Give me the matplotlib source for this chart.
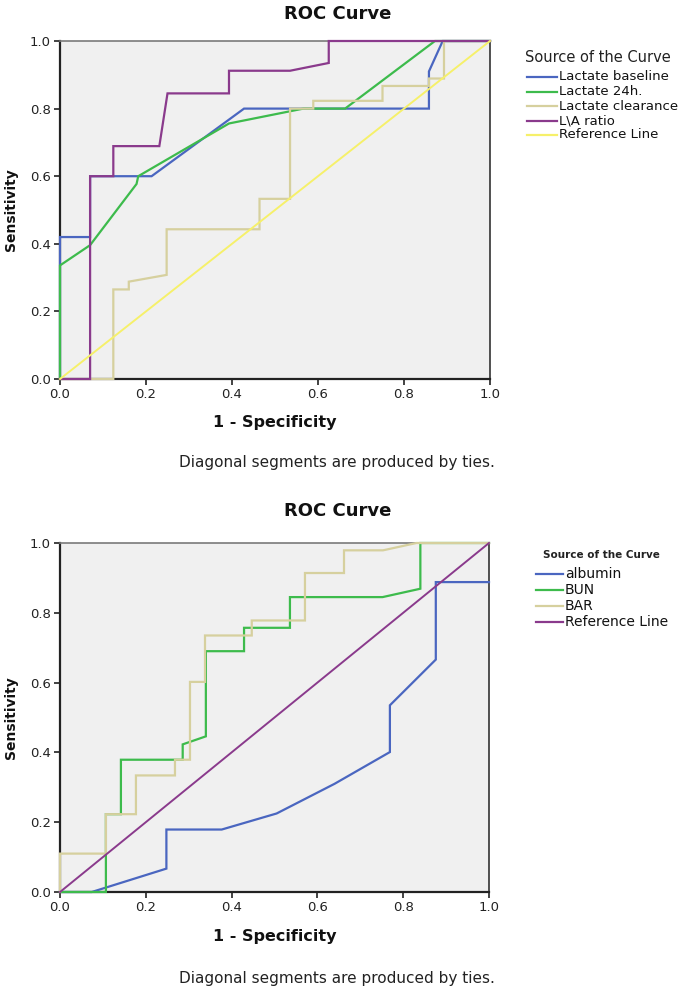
import matplotlib
matplotlib.use("Agg")
import matplotlib.pyplot as plt
from matplotlib.lines import Line2D

plt.rcParams['font.family'] = ['DejaVu Sans']

# ---------------- data: top chart ----------------
ticks = [0.0, 0.2, 0.4, 0.6, 0.8, 1.0]
tick_labels = ["0.0", "0.2", "0.4", "0.6", "0.8", "1.0"]

top_labels = ["Lactate baseline", "Lactate 24h.", "Lactate clearance", "L\\A ratio", "Reference Line"]

base_x = [0, 0, 0.07, 0.07, 0.213, 0.428, 0.858, 0.858, 0.89, 1.0]
base_y = [0, 0.42, 0.42, 0.6, 0.6, 0.8, 0.8, 0.91, 1.0, 1.0]

l24_x = [0, 0, 0.07, 0.178, 0.182, 0.393, 0.566, 0.663, 0.872, 1.0]
l24_y = [0, 0.336, 0.396, 0.577, 0.6, 0.756, 0.8, 0.8, 1.0, 1.0]

clr_x = [0, 0.124, 0.124, 0.16, 0.16, 0.248, 0.248, 0.464, 0.464, 0.535, 0.535,
         0.589, 0.589, 0.75, 0.75, 0.858, 0.858, 0.893, 0.893, 1.0]
clr_y = [0, 0, 0.265, 0.265, 0.288, 0.308, 0.443, 0.443, 0.533, 0.533, 0.8,
         0.8, 0.823, 0.823, 0.867, 0.867, 0.889, 0.889, 1.0, 1.0]

la_x = [0, 0.07, 0.07, 0.124, 0.124, 0.231, 0.25, 0.393, 0.393, 0.535, 0.625, 0.625, 1.0]
la_y = [0, 0, 0.6, 0.6, 0.689, 0.689, 0.845, 0.845, 0.912, 0.912, 0.935, 1.0, 1.0]

ref_x = [0, 1]
ref_y = [0, 1]

# ---------------- data: bottom chart ----------------
bot_labels = ["albumin", "BUN", "BAR", "Reference Line"]

alb_x = [0, 0.074, 0.248, 0.248, 0.377, 0.505, 0.64, 0.769, 0.769, 0.876, 0.876, 1.0]
alb_y = [0, 0, 0.067, 0.179, 0.179, 0.225, 0.31, 0.401, 0.535, 0.666, 0.888, 0.888]

bun_x = [0, 0.107, 0.107, 0.142, 0.142, 0.286, 0.286, 0.34, 0.34, 0.429, 0.429,
         0.536, 0.536, 0.752, 0.84, 0.84, 1.0]
bun_y = [0, 0, 0.223, 0.223, 0.379, 0.379, 0.423, 0.446, 0.69, 0.69, 0.757,
         0.757, 0.845, 0.845, 0.869, 1.0, 1.0]

bar_x = [0, 0, 0.107, 0.107, 0.177, 0.177, 0.268, 0.268, 0.303, 0.303, 0.338,
         0.338, 0.447, 0.447, 0.571, 0.571, 0.662, 0.662, 0.753, 0.831, 1.0]
bar_y = [0, 0.11, 0.11, 0.223, 0.223, 0.334, 0.334, 0.379, 0.379, 0.602, 0.602,
         0.735, 0.735, 0.778, 0.778, 0.914, 0.914, 0.979, 0.979, 1.0, 1.0]

# ---------------- styles ----------------
BLUE = "#4a66c0"
GREEN = "#3dbb4c"
TAN = "#d6d09e"
PURPLE = "#8a3a8c"
YELLOW = "#f6f06a"
BG = "#f0f0f0"

W, H = 685, 990
fig = plt.figure(figsize=(W / 100, H / 100), dpi=100)


def px_ax(left, top, right, bottom):
    return fig.add_axes([left / W, 1 - bottom / H, (right - left) / W, (bottom - top) / H])


def style_axes(ax, top_px, bottom_px, left_px, right_px, title_y_px, xlabel_y_px):
    ax.set_facecolor(BG)
    ax.set_xlim(0, 1)
    ax.set_ylim(0, 1)
    ax.set_xticks(ticks)
    ax.set_xticklabels(tick_labels)
    ax.set_yticks(ticks)
    ax.set_yticklabels(tick_labels)
    ax.tick_params(direction='out', length=4.5, width=1.2, color='#222222',
                   labelsize=9.5, labelcolor='#222222', pad=2)
    ax.spines['left'].set_linewidth(1.6)
    ax.spines['bottom'].set_linewidth(1.6)
    ax.spines['left'].set_color('#222222')
    ax.spines['bottom'].set_color('#222222')
    ax.spines['top'].set_linewidth(1.2)
    ax.spines['top'].set_color('#7a7a7a')
    ax.spines['right'].set_linewidth(1.2)
    ax.spines['right'].set_color('#333333')
    hpx = bottom_px - top_px
    wpx = right_px - left_px
    ax.set_title("ROC Curve", fontsize=13, fontweight='bold', color='#111111',
                 x=(338 - left_px) / wpx, y=(bottom_px - title_y_px) / hpx,
                 va='center', pad=0)
    ax.set_xlabel("1 - Specificity", fontsize=11.5, fontweight='bold', color='#111111')
    ax.xaxis.set_label_coords(0.5, (bottom_px - xlabel_y_px) / hpx)
    ax.xaxis.label.set_va('center')
    ax.set_ylabel("Sensitivity", fontsize=10, fontweight='bold', color='#111111')
    ax.yaxis.set_label_coords((11 - left_px) / wpx, 0.5)
    ax.yaxis.label.set_va('center')


# ---------------- top chart ----------------
ax1 = px_ax(60, 41, 490, 379)
style_axes(ax1, 41, 379, 60, 490, 14, 422)
top_series = [(base_x, base_y, BLUE, 1.6), (l24_x, l24_y, GREEN, 1.6),
              (clr_x, clr_y, TAN, 1.6), (la_x, la_y, PURPLE, 1.6),
              (ref_x, ref_y, YELLOW, 1.4)]
for i, (xs, ys, c, lw) in enumerate(top_series):
    ax1.plot(xs, ys, color=c, lw=lw, clip_on=False, zorder=3 + i * 0.1,
             solid_joinstyle='miter')

fig.text(337 / W, 1 - 463 / H, "Diagonal segments are produced by ties.",
         ha='center', va='center', fontsize=11, color='#222222')

# top legend
fig.text(525 / W, 1 - 57 / H, "Source of the Curve", ha='left', va='center',
         fontsize=10.5, color='#222222')
top_rows = [77, 91.5, 106, 120.5, 135]
for (xs, ys, c, lw), lab, yr in zip(top_series, top_labels, top_rows):
    fig.add_artist(Line2D([527 / W, 557 / W], [1 - yr / H, 1 - yr / H],
                          color=c, lw=1.6, transform=fig.transFigure))
    fig.text(559 / W, 1 - yr / H, lab, ha='left', va='center', fontsize=9.5,
             color='#111111')

# ---------------- bottom chart ----------------
ax2 = px_ax(60, 543, 489, 892)
style_axes(ax2, 543, 892, 60, 489, 511, 936)
bot_series = [(alb_x, alb_y, BLUE, 1.6), (bun_x, bun_y, GREEN, 1.6),
              (bar_x, bar_y, TAN, 1.6), (ref_x, ref_y, PURPLE, 1.4)]
for i, (xs, ys, c, lw) in enumerate(bot_series):
    ax2.plot(xs, ys, color=c, lw=lw, clip_on=False, zorder=3 + i * 0.1,
             solid_joinstyle='miter')

fig.text(337 / W, 1 - 978 / H, "Diagonal segments are produced by ties.",
         ha='center', va='center', fontsize=11, color='#222222')

fig.text(543 / W, 1 - 555 / H, "Source of the Curve", ha='left', va='center',
         fontsize=7.5, fontweight='bold', color='#222222')
bot_rows = [574, 590, 606, 622]
for (xs, ys, c, lw), lab, yr in zip(bot_series, bot_labels, bot_rows):
    fig.add_artist(Line2D([536 / W, 563 / W], [1 - yr / H, 1 - yr / H],
                          color=c, lw=1.6, transform=fig.transFigure))
    fig.text(565 / W, 1 - yr / H, lab, ha='left', va='center', fontsize=10,
             color='#111111')

fig.savefig("out.png", dpi=100, facecolor='white')
